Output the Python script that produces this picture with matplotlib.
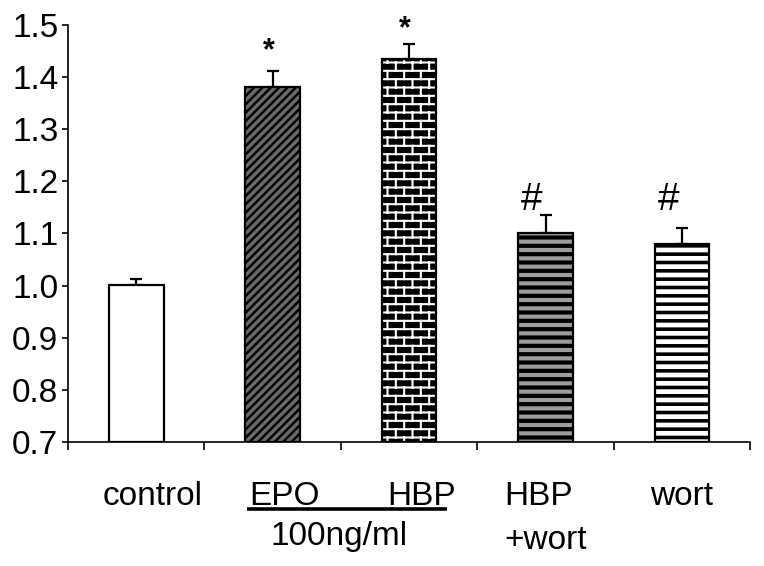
import warnings

import numpy as np
import matplotlib
matplotlib.use("Agg")
import matplotlib.pyplot as plt
from matplotlib import hatch as mhatch
from matplotlib.path import Path

warnings.filterwarnings("ignore", message=".*hatch must consist.*")

# data
groups = ["control", "EPO", "HBP", "HBP+wort", "wort"]
means = [1.002, 1.381, 1.435, 1.101, 1.080]
sems = [0.011, 0.031, 0.028, 0.034, 0.031]
sig_marks = ["", "*", "*", "#", "#"]
sig_heights = [None, 1.450, 1.491, 1.165, 1.165]
y_ticks = [0.7, 0.8, 0.9, 1.0, 1.1, 1.2, 1.3, 1.4, 1.5]


class BrickHatch(mhatch.HatchPatternBase):
    """Running-bond brick pattern, selected with the 'b' hatch letter."""

    def __init__(self, hatch, density):
        self.on = 'b' in hatch
        self.rows = 2 * density
        self.cols = density
        if self.on:
            self.num_vertices = 2 * self.rows + 2 * self.cols * (self.rows + 1)
        else:
            self.num_vertices = 0

    def set_vertices_and_codes(self, vertices, codes):
        dy = 1.0 / self.rows
        k = 0
        for i in range(self.rows):
            y = (i + 0.5) * dy
            vertices[k] = (0.0, y)
            vertices[k + 1] = (1.0, y)
            k += 2
        for i in range(self.rows):
            y0 = (i + 0.5) * dy
            y1 = y0 + dy
            shift = 0.5 * (i % 2)
            for j in range(self.cols):
                x = (j + 0.25 + shift) / self.cols
                if y1 <= 1.0:
                    vertices[k] = (x, y0)
                    vertices[k + 1] = (x, y1)
                    k += 2
                else:
                    vertices[k] = (x, y0)
                    vertices[k + 1] = (x, 1.0)
                    vertices[k + 2] = (x, 0.0)
                    vertices[k + 3] = (x, y1 - 1.0)
                    k += 4
        # pad any unused slots with zero-length moves
        while k < len(vertices):
            vertices[k] = vertices[k - 1]
            k += 1
        codes[0::2] = Path.MOVETO
        codes[1::2] = Path.LINETO


mhatch._hatch_types.append(BrickHatch)

plt.rcParams['font.family'] = ['Liberation Sans', 'DejaVu Sans']

fig = plt.figure(figsize=(7.64, 5.66), dpi=100)
ax = fig.add_axes([0.089, 0.219, 0.893, 0.737])

x = np.arange(len(groups))
base = 0.7
heights = [m - base for m in means]
width = 0.4

# (face, hatch, hatch colour, hatch width)
styles = [
    ("white", None, "black", 1.0),
    ("#6b6b6b", "////", "black", 1.8),
    ("black", "b", "white", 1.5),
    ("#9c9c9c", "--", "black", 3.0),
    ("white", "--", "black", 2.6),
]

for i, (face, hatch, hcol, hlw) in enumerate(styles):
    with plt.rc_context({'hatch.linewidth': hlw}):
        b = ax.bar(x[i], heights[i], width, bottom=base, color=face,
                   edgecolor=hcol, hatch=hatch, linewidth=0, zorder=2)
    for p in b:
        if hasattr(p, 'set_hatch_linewidth'):
            p.set_hatch_linewidth(hlw)
    ax.bar(x[i], heights[i], width, bottom=base, facecolor='none',
           edgecolor='black', linewidth=1.6, zorder=3)

ax.errorbar(x, means, yerr=[np.zeros(len(sems)), sems], fmt='none',
            ecolor='black', elinewidth=1.6, capsize=4.3, capthick=1.6,
            zorder=1)

for i, (mark, h) in enumerate(zip(sig_marks, sig_heights)):
    if not mark:
        continue
    if mark == "*":
        ax.text(x[i] - 0.03, h, mark, ha='center', va='center',
                fontsize=22, fontweight='bold')
    else:
        ax.text(x[i] - 0.1, h, mark, ha='center', va='center', fontsize=28)

ax.set_xlim(-0.5, len(groups) - 0.5)
ax.set_ylim(0.7, 1.5)
ax.set_yticks(y_ticks)
ax.set_yticklabels([f"{t:.1f}" for t in y_ticks])
ax.set_xticks(np.arange(-0.5, len(groups), 1.0))
ax.set_xticklabels([])

for side in ['top', 'right']:
    ax.spines[side].set_visible(False)
for side in ['left', 'bottom']:
    ax.spines[side].set_linewidth(1.2)
ax.tick_params(axis='y', direction='out', length=4, width=1.2, labelsize=24, pad=3)
ax.tick_params(axis='x', direction='out', length=6, width=1.2)

# category labels under the axis
lab_kw = dict(fontsize=24, va='baseline', clip_on=False)
y1, y2 = 0.579, 0.495
ax.text(0.12, y1, "control", ha='center', **lab_kw)
ax.text(1.09, y1, "EPO", ha='center', **lab_kw)
ax.text(2.09, y1, "HBP", ha='center', **lab_kw)
ax.text(2.70, y1, "HBP", ha='left', **lab_kw)
ax.text(2.70, y2, "+wort", ha='left', **lab_kw)
ax.text(4.0, y1, "wort", ha='center', **lab_kw)
ax.text(1.485, 0.502, "100ng/ml", ha='center', **lab_kw)
ax.plot([0.81, 2.277], [0.571, 0.571], color='black', linewidth=2.6,
        clip_on=False, solid_capstyle='butt')

fig.savefig("out.png", dpi=100, facecolor='white')
